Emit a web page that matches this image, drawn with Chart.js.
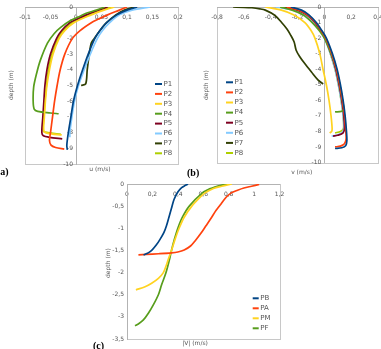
<!DOCTYPE html>
<html><head><meta charset="utf-8">
<script src="https://cdn.jsdelivr.net/npm/chart.js@4.4.1/dist/chart.umd.min.js"></script>
<style>
html,body{margin:0;padding:0;width:381px;height:349px;overflow:hidden;background:#fff;position:relative}
canvas{position:absolute;left:0;top:0}
.lab{position:absolute;font:bold 10px "Liberation Serif",serif;color:#000;white-space:nowrap;line-height:10px}
</style></head><body>
<canvas id="ca" width="420" height="380"></canvas>
<canvas id="cb" width="420" height="380"></canvas>
<canvas id="cc" width="420" height="380"></canvas>
<div class="lab" style="left:-3px;top:167px">(a)</div>
<div class="lab" style="left:187px;top:168px">(b)</div>
<div class="lab" style="left:93px;top:341px">(c)</div>
<script>
// ---------- DATA ----------
const namesAB = ['P1','P2','P3','P4','P5','P6','P7','P8'];
const namesC = ['PB','PA','PM','PF'];

// chart (a): u (m/s) vs depth (m)
const aD1 = [0,-0.2,-0.5,-1,-1.5,-2,-3,-4,-5,-6,-7,-8,-8.8,-9.1];
const aU1 = [0.12,0.10,0.08,0.06,0.047,0.037,0.024,0.013,0.003,-0.005,-0.01,-0.015,-0.018,-0.017];
const aD2 = [0,-0.2,-0.5,-0.8,-1,-1.5,-2,-3,-4,-5,-6,-7,-8,-8.5,-8.8,-8.95,-9.05];
const aU2 = [0.1,0.085,0.062,0.042,0.03,0.008,-0.007,-0.022,-0.031,-0.037,-0.042,-0.046,-0.05,-0.052,-0.049,-0.04,-0.023];
const aD3 = [0,-0.2,-0.5,-1,-1.5,-2,-3,-4,-5,-6,-7,-7.9,-8.05,-8.15];
const aU3 = [0.075,0.055,0.03,-0.004,-0.022,-0.033,-0.045,-0.052,-0.057,-0.06,-0.062,-0.063,-0.055,-0.028];
const aD4 = [0,-0.2,-0.4,-0.6,-0.85,-1.3,-1.7,-2.3,-3.4,-4.2,-5.1,-6,-6.5,-6.65,-6.75,-6.8];
const aU4 = [0.056,0.04,0.02,0.007,-0.01,-0.03,-0.043,-0.056,-0.07,-0.077,-0.083,-0.084,-0.082,-0.075,-0.05,-0.034];
const aD5 = [0,-0.2,-0.5,-0.8,-1,-1.5,-2,-3,-4,-5,-6,-7,-8,-8.2,-8.3,-8.4];
const aU5 = [0.062,0.045,0.02,0.0,-0.012,-0.028,-0.038,-0.05,-0.057,-0.061,-0.063,-0.065,-0.067,-0.064,-0.052,-0.027];
const aD6 = [0,-0.2,-0.5,-1,-1.5,-2,-3,-4,-5,-6,-7,-8,-8.3];
const aU6 = [0.145,0.11,0.085,0.066,0.052,0.042,0.028,0.016,0.005,-0.003,-0.008,-0.012,-0.012];
const aD7 = [0,-0.2,-0.5,-1,-1.5,-2,-2.3,-3,-4,-4.9,-5.0];
const aU7 = [0.115,0.095,0.078,0.06,0.047,0.036,0.03,0.026,0.022,0.019,0.01];
const aD8 = [0,-0.2,-0.5,-1,-1.5,-2,-3,-4,-5,-6,-7,-7.9,-8.0,-8.1];
const aU8 = [0.07,0.05,0.025,-0.008,-0.025,-0.035,-0.047,-0.054,-0.058,-0.061,-0.063,-0.064,-0.055,-0.03];

// chart (b): v (m/s) vs depth (m)
const bD1 = [0,-0.2,-0.5,-1,-1.5,-2,-3,-4,-5,-6,-7,-8,-8.6,-8.9,-9.05,-9.1];
const bV1 = [-0.25,-0.17,-0.115,-0.06,-0.02,0.015,0.06,0.095,0.12,0.14,0.155,0.165,0.168,0.16,0.13,0.08];
const bD2 = [0,-0.2,-0.5,-1,-1.5,-2,-3,-4,-5,-6,-7,-8,-8.5,-8.8,-8.95,-9.0];
const bV2 = [-0.28,-0.19,-0.125,-0.065,-0.025,0.01,0.055,0.09,0.115,0.135,0.15,0.16,0.162,0.15,0.12,0.08];
const bD3 = [0,-0.2,-0.5,-1,-1.5,-2,-3,-4,-5,-6,-7,-7.8,-8.0,-8.1];
const bV3 = [-0.44,-0.32,-0.23,-0.145,-0.1,-0.07,-0.034,-0.01,0.015,0.035,0.05,0.058,0.055,0.04];
const bD4 = [0,-0.2,-0.5,-1,-1.5,-2,-3,-4,-5,-6,-6.55,-6.7,-6.75];
const bV4 = [-0.33,-0.24,-0.16,-0.09,-0.04,0.0,0.05,0.09,0.115,0.135,0.145,0.13,0.08];
const bD5 = [0,-0.2,-0.5,-1,-1.5,-2,-3,-4,-5,-6,-7,-7.8,-8.1,-8.25,-8.3];
const bV5 = [-0.3,-0.2,-0.13,-0.07,-0.03,0.005,0.05,0.085,0.11,0.13,0.145,0.15,0.14,0.1,0.065];
const bD6 = [0,-0.2,-0.5,-1,-1.5,-2,-3,-4,-5,-6,-7,-7.8,-8.1,-8.25,-8.3];
const bV6 = [-0.36,-0.23,-0.14,-0.075,-0.035,0.0,0.045,0.08,0.105,0.125,0.14,0.145,0.13,0.09,0.055];
const bD7 = [0,-0.02,-0.05,-0.12,-0.2,-0.53,-0.98,-1.4,-1.82,-2.25,-2.78,-3.2,-3.64,-4.18,-4.7,-4.95];
const bV7 = [-0.68,-0.6,-0.54,-0.48,-0.44,-0.37,-0.32,-0.28,-0.25,-0.225,-0.21,-0.183,-0.146,-0.096,-0.046,-0.009];
const bD8 = [0,-0.2,-0.5,-1,-1.5,-2,-3,-4,-5,-6,-7,-7.8,-8.0,-8.1];
const bV8 = [-0.32,-0.22,-0.135,-0.07,-0.03,0.005,0.045,0.08,0.105,0.125,0.14,0.143,0.12,0.08];

// chart (c): |V| (m/s) vs depth (m)
const cDB = [0,-0.03,-0.08,-0.18,-0.35,-0.55,-0.75,-0.95,-1.1,-1.25,-1.38,-1.48,-1.55,-1.59,-1.6];
const cVB = [0.48,0.46,0.43,0.40,0.37,0.35,0.33,0.31,0.29,0.26,0.23,0.20,0.17,0.14,0.13];
const cDA = [-0.01,-0.05,-0.09,-0.14,-0.2,-0.3,-0.45,-0.6,-0.78,-0.95,-1.12,-1.27,-1.4,-1.49,-1.535,-1.555,-1.575,-1.59,-1.6];
const cVA = [1.04,0.98,0.92,0.87,0.82,0.78,0.74,0.7,0.66,0.62,0.58,0.54,0.5,0.45,0.4,0.35,0.25,0.15,0.09];
const cDM = [0,-0.05,-0.1,-0.2,-0.3,-0.5,-0.75,-1,-1.25,-1.5,-1.7,-1.83,-2.0,-2.13,-2.24,-2.32,-2.39];
const cVM = [0.825,0.745,0.68,0.614,0.575,0.51,0.45,0.41,0.378,0.35,0.325,0.31,0.286,0.247,0.194,0.142,0.07];
const cDF = [0,-0.03,-0.07,-0.11,-0.2,-0.5,-0.75,-1,-1.25,-1.5,-1.65,-2.0,-2.27,-2.5,-2.73,-2.92,-3.07,-3.16,-3.2];
const cVF = [0.79,0.74,0.69,0.65,0.593,0.49,0.436,0.4,0.373,0.35,0.339,0.307,0.273,0.247,0.207,0.168,0.129,0.089,0.063];

// ---------- STYLE ----------
const palette = ['#004586','#ff420e','#ffd320','#579d1c','#7e0021','#83caff','#314004','#aecf00'];
const FONT = '"DejaVu Sans", sans-serif';

function pts(xs, ys){ return xs.map((x,i)=>({x:x, y:ys[i]})); }
function fmt(v){ return String(Math.round(v*100)/100).replace('.', ','); }

const deco = {
  id: 'deco',
  beforeDraw(chart, args, o) {
    const {ctx, chartArea: a} = chart;
    ctx.save();
    ctx.strokeStyle = '#c8c8c8'; ctx.lineWidth = 1;
    ctx.strokeRect(Math.round(a.left)+0.5, Math.round(a.top)+0.5, Math.round(a.right-a.left), Math.round(a.bottom-a.top));
    ctx.restore();
  },
  afterDraw(chart, args, o) {
    const ctx = chart.ctx;
    ctx.save();
    ctx.fillStyle = '#555';
    ctx.font = '6px ' + FONT;
    ctx.textAlign = 'center'; ctx.textBaseline = 'middle';
    ctx.fillText(o.xTitle, o.xt[0], o.xt[1]);
    ctx.translate(o.yt[0], o.yt[1]); ctx.rotate(-Math.PI/2);
    ctx.fillText(o.yTitle, 0, 0);
    ctx.restore();
    ctx.save();
    ctx.font = '7px ' + FONT; ctx.textAlign = 'left'; ctx.textBaseline = 'middle';
    chart.data.datasets.forEach((ds, i) => {
      const y = o.lg.y + i * o.lg.dy;
      ctx.strokeStyle = ds.borderColor; ctx.lineWidth = 2;
      ctx.beginPath(); ctx.moveTo(o.lg.x, y); ctx.lineTo(o.lg.x + o.lg.len, y); ctx.stroke();
      ctx.fillStyle = '#555'; ctx.fillText(ds.label, o.lg.x + o.lg.len + 1.5, y);
    });
    ctx.restore();
  }
};

function scales(xmin, xmax, xstep, ymin, ymax, ystep) {
  const common = {
    type: 'linear',
    grid: {display: false, drawTicks: false},
    border: {display: true, color: '#b3b3b3', width: 1},
  };
  return {
    x: Object.assign({}, common, {min: xmin, max: xmax, position: {y: 0},
      ticks: {stepSize: xstep, autoSkip: false, maxRotation: 0, minRotation: 0, padding: 0, color: '#555',
        font: {family: FONT, size: 6, lineHeight: 3.5}, callback: v => fmt(v)}}),
    y: Object.assign({}, common, {min: ymin, max: ymax, position: {x: 0},
      ticks: {stepSize: ystep, autoSkip: false, padding: 0, color: '#555',
        font: {family: FONT, size: 6}, callback: v => fmt(v) + '\u2002'}})
  };
}

function makeChart(id, names, xs, ys, sc, pad, deco_o) {
  const datasets = names.map((n, i) => ({
    label: n, data: pts(xs[i], ys[i]), showLine: true, fill: false,
    borderColor: palette[i], backgroundColor: palette[i], borderWidth: 1.7,
    pointRadius: 0, tension: 0.3
  }));
  return new Chart(document.getElementById(id), {
    type: 'scatter',
    data: {datasets},
    options: {
      responsive: false, animation: false, devicePixelRatio: 1,
      layout: {padding: pad},
      scales: sc,
      plugins: {legend: {display: false}, tooltip: {enabled: false}, deco: deco_o}
    },
    plugins: [deco]
  });
}

makeChart('ca', namesAB,
  [aU1,aU2,aU3,aU4,aU5,aU6,aU7,aU8], [aD1,aD2,aD3,aD4,aD5,aD6,aD7,aD8],
  scales(-0.1, 0.2, 0.05, -10, 0, 1),
  {left: 25, top: 7, right: 242, bottom: 216},
  {xTitle: 'u (m/s)', xt: [100, 169.5], yTitle: 'depth (m)', yt: [11.7, 85],
   lg: {x: 155, y: 84, dy: 9.9, len: 7}});

makeChart('cb', namesAB,
  [bV1,bV2,bV3,bV4,bV5,bV6,bV7,bV8], [bD1,bD2,bD3,bD4,bD5,bD6,bD7,bD8],
  scales(-0.8, 0.4, 0.2, -10, 0, 1),
  {left: 217, top: 7, right: 42, bottom: 217.5},
  {xTitle: 'v (m/s)', xt: [301.7, 172.5], yTitle: 'depth (m)', yt: [206.7, 85],
   lg: {x: 226, y: 82.3, dy: 10.1, len: 7}});

makeChart('cc', namesC,
  [cVB,cVA,cVM,cVF], [cDB,cDA,cDM,cDF],
  scales(0, 1.2, 0.2, -3.5, 0, 0.5),
  {left: 127, top: 184, right: 140.5, bottom: 41},
  {xTitle: '|V| (m/s)', xt: [195, 343], yTitle: 'depth (m)', yt: [108, 263],
   lg: {x: 252.7, y: 298.3, dy: 10, len: 6}});
</script>
</body></html>
